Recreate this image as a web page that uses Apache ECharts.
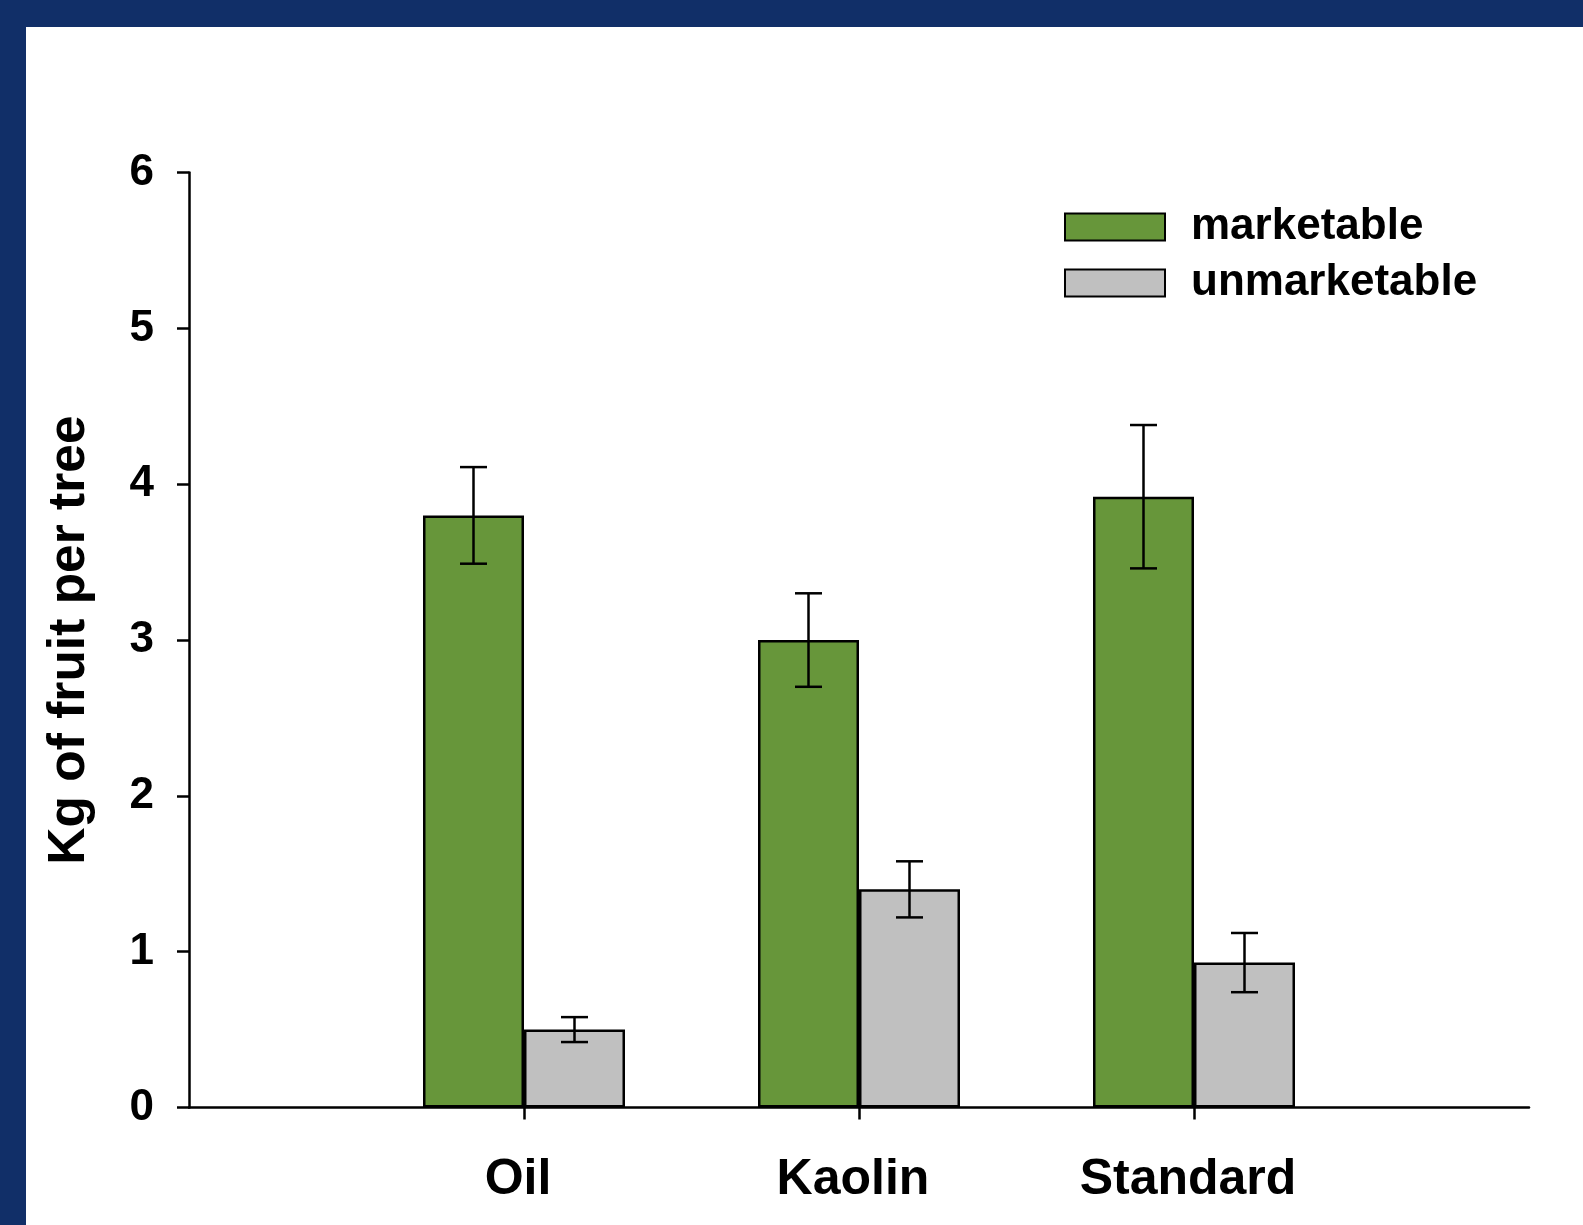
<!DOCTYPE html>
<html>
<head>
<meta charset="utf-8">
<title>Kg of fruit per tree</title>
<script src="https://cdn.jsdelivr.net/npm/echarts@6/dist/echarts.min.js"></script>
<style>
  html, body { margin: 0; padding: 0; width: 1583px; height: 1225px; overflow: hidden; background: #112f68; }
  #chart { position: absolute; left: 26px; top: 27px; width: 1557px; height: 1198px; background: #ffffff; }
</style>
</head>
<body>
<div id="chart"></div>
<script>
// Treatments along the x axis
const categories = ['Oil', 'Kaolin', 'Standard'];

// Mean fruit yield (kg per tree) and the half-length of each error bar
const marketable = [3.80, 3.00, 3.92];
const marketableErr = [0.31, 0.30, 0.46];
const unmarketable = [0.50, 1.40, 0.93];
const unmarketableErr = [0.08, 0.18, 0.19];

// Y axis ticks
const yTicks = [0, 1, 2, 3, 4, 5, 6];

const FONT = '"Liberation Sans", Arial, sans-serif';
const GREEN = '#67963a';
const GRAY = '#c0c0c0';
const BAR_W = 101;
const LINE_W = 2.5;

// Empty slots at both ends leave room around the three treatments
const xSlots = [''].concat(categories, ['']);

function withIndex(vals) {
  return vals.map((v, i) => [i + 1, v]);
}
function errData(vals, errs) {
  return vals.map((v, i) => [i + 1, v - errs[i], v + errs[i]]);
}
function errorBars(shift) {
  return function (params, api) {
    const lo = api.coord([api.value(0), api.value(1)]);
    const hi = api.coord([api.value(0), api.value(2)]);
    const x = lo[0] + shift;
    const cap = 13.5;
    const style = { stroke: '#000', lineWidth: LINE_W, fill: null };
    return {
      type: 'group',
      children: [
        { type: 'line', shape: { x1: x, y1: lo[1], x2: x, y2: hi[1] }, style },
        { type: 'line', shape: { x1: x - cap, y1: hi[1], x2: x + cap, y2: hi[1] }, style },
        { type: 'line', shape: { x1: x - cap, y1: lo[1], x2: x + cap, y2: lo[1] }, style }
      ]
    };
  };
}

const chart = echarts.init(document.getElementById('chart'), null, { renderer: 'canvas' });

chart.setOption({
  animation: false,
  backgroundColor: '#ffffff',
  textStyle: { fontFamily: FONT },
  grid: { left: 163, right: 54, top: 145.6, bottom: 117.5 },
  legend: {
    orient: 'vertical',
    left: 1033,
    top: 173,
    itemWidth: 100,
    itemHeight: 27,
    itemGap: 12,
    icon: 'rect',
    textStyle: { fontFamily: FONT, fontSize: 44, fontWeight: 'bold', color: '#000', padding: [0, 0, 0, 21] },
    data: ['marketable', 'unmarketable']
  },
  xAxis: {
    type: 'category',
    data: xSlots,
    boundaryGap: false,
    axisLine: { lineStyle: { color: '#000', width: LINE_W } },
    axisTick: {
      length: 12,
      lineStyle: { color: '#000', width: LINE_W },
      interval: function (idx) { return idx > 0 && idx < xSlots.length - 1; }
    },
    axisLabel: {
      interval: 0,
      margin: 48,
      padding: [0, 12, 0, 0],
      color: '#000',
      fontFamily: FONT,
      fontSize: 50,
      fontWeight: 'bold'
    },
    splitLine: { show: false }
  },
  yAxis: {
    type: 'value',
    min: yTicks[0],
    max: yTicks[yTicks.length - 1],
    interval: 1,
    name: 'Kg of fruit per tree',
    nameLocation: 'middle',
    nameGap: 93,
    nameTextStyle: { fontFamily: FONT, fontSize: 51.5, fontWeight: 'bold', color: '#000' },
    axisLine: { show: true, lineStyle: { color: '#000', width: LINE_W } },
    axisTick: { show: true, length: 12, lineStyle: { color: '#000', width: LINE_W } },
    axisLabel: { margin: 35, padding: [4, 0, 0, 0], color: '#000', fontFamily: FONT, fontSize: 44, fontWeight: 'bold' },
    splitLine: { show: false }
  },
  series: [
    {
      name: 'marketable',
      type: 'bar',
      data: withIndex(marketable),
      barWidth: BAR_W,
      barGap: '0%',
      itemStyle: { color: GREEN, borderColor: '#000', borderWidth: LINE_W }
    },
    {
      name: 'unmarketable',
      type: 'bar',
      data: withIndex(unmarketable),
      barWidth: BAR_W,
      barGap: '0%',
      itemStyle: { color: GRAY, borderColor: '#000', borderWidth: LINE_W }
    },
    {
      type: 'custom',
      renderItem: errorBars(-BAR_W / 2),
      data: errData(marketable, marketableErr),
      z: 10,
      silent: true
    },
    {
      type: 'custom',
      renderItem: errorBars(BAR_W / 2),
      data: errData(unmarketable, unmarketableErr),
      z: 10,
      silent: true
    }
  ]
});
</script>
</body>
</html>
